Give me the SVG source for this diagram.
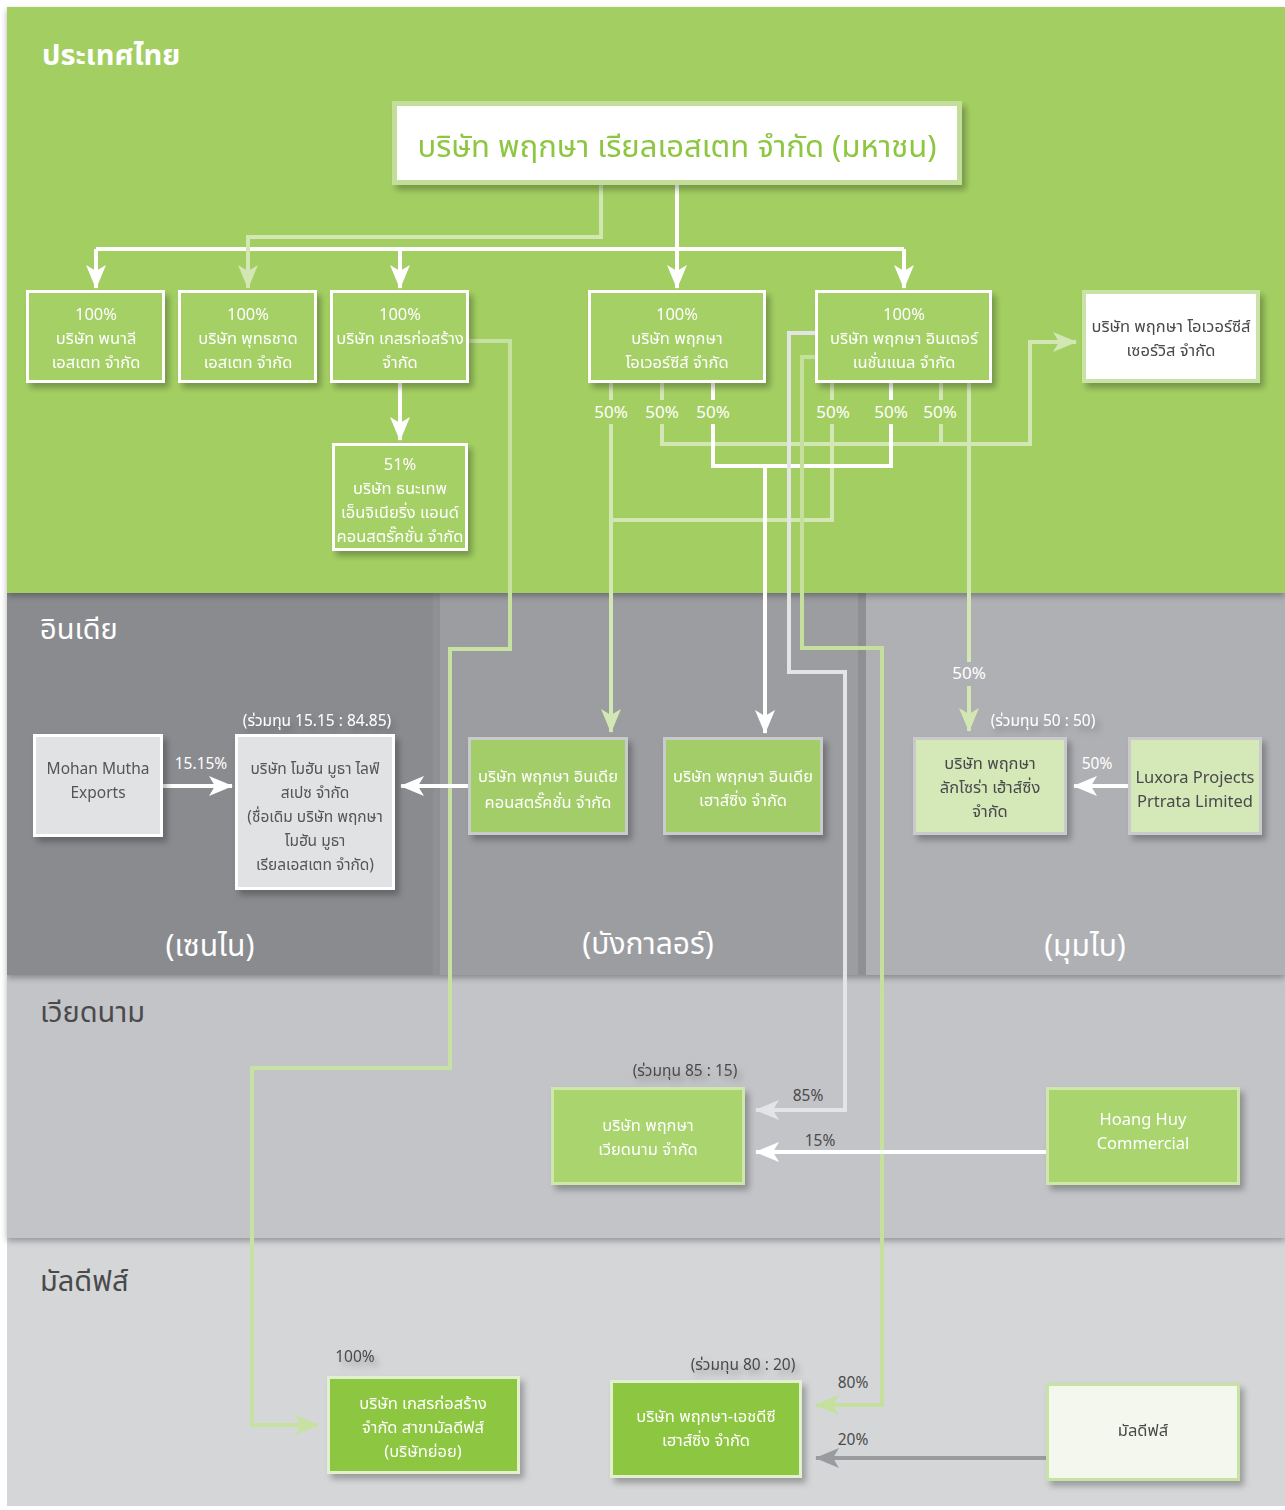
<svg xmlns="http://www.w3.org/2000/svg" width="1285" height="1510" viewBox="0 0 1285 1510">
<defs>
<style>
.t{font-family:"Noto Sans Thai","Leelawadee UI","Tahoma","Noto Sans","DejaVu Sans",sans-serif;text-anchor:middle}
.w{fill:#ffffff}
.d{fill:#4a4a4c}
.g{fill:#555558}
.s16{font-size:16.5px}
.s15{font-size:15.5px}
.p50{font-size:17px}
.big{font-size:30px}
.reg{font-size:29px;text-anchor:start}
.ln{fill:none;stroke-width:4;stroke-linejoin:miter}
.cw{stroke:#ffffff}
.clg{stroke:#d2e7b4}
.ck{stroke:#c7e1a1}
.cgr{stroke:#e3e4e6}
.cg2{stroke:#c4e09c}
.cdk{stroke:#9a9b9f}
.boxg{fill:#a4d066;stroke:#ffffff;stroke-width:3}
.boxi{fill:#a3cd67;stroke:#c9cacc;stroke-width:3}
.boxl{fill:#d5e8b8;stroke:#c9cacc;stroke-width:3}
.boxe{fill:#e1e2e4;stroke:#ffffff;stroke-width:3}
.boxv{fill:#a9d46e;stroke:#cfe6ad;stroke-width:3}
.boxm{fill:#8dc63f;stroke:#e3f0cf;stroke-width:3}
</style>
<filter id="sh" x="-20%" y="-20%" width="150%" height="150%">
<feDropShadow dx="4" dy="5" stdDeviation="3" flood-color="#000" flood-opacity="0.28"/>
</filter>
<filter id="psh" x="-5%" y="-5%" width="110%" height="120%">
<feDropShadow dx="0" dy="3" stdDeviation="3" flood-color="#000" flood-opacity="0.3"/>
</filter>
<marker id="aw" viewBox="0 0 24 20" refX="23" refY="10" markerWidth="24" markerHeight="20" markerUnits="userSpaceOnUse" orient="auto"><path d="M0,0 L24,10 L0,20 L6,10 z" fill="#ffffff"/></marker>
<marker id="alg" viewBox="0 0 24 20" refX="23" refY="10" markerWidth="24" markerHeight="20" markerUnits="userSpaceOnUse" orient="auto"><path d="M0,0 L24,10 L0,20 L6,10 z" fill="#d2e7b4"/></marker>
<marker id="ak" viewBox="0 0 24 20" refX="23" refY="10" markerWidth="24" markerHeight="20" markerUnits="userSpaceOnUse" orient="auto"><path d="M0,0 L24,10 L0,20 L6,10 z" fill="#c7e1a1"/></marker>
<marker id="agr" viewBox="0 0 24 20" refX="23" refY="10" markerWidth="24" markerHeight="20" markerUnits="userSpaceOnUse" orient="auto"><path d="M0,0 L24,10 L0,20 L6,10 z" fill="#e3e4e6"/></marker>
<marker id="ag2" viewBox="0 0 24 20" refX="23" refY="10" markerWidth="24" markerHeight="20" markerUnits="userSpaceOnUse" orient="auto"><path d="M0,0 L24,10 L0,20 L6,10 z" fill="#c4e09c"/></marker>
<marker id="adk" viewBox="0 0 24 20" refX="23" refY="10" markerWidth="24" markerHeight="20" markerUnits="userSpaceOnUse" orient="auto"><path d="M0,0 L24,10 L0,20 L6,10 z" fill="#9a9b9f"/></marker>
</defs>

<rect x="0" y="0" width="1285" height="1510" fill="#ffffff"/>

<g id="regions">
<rect x="7" y="1238" width="1278" height="268" fill="#d5d6d8"/>
<rect x="7" y="975" width="1278" height="263" fill="#c3c4c7" filter="url(#psh)"/>
<rect x="7" y="593" width="1278" height="382" fill="#8f9094" filter="url(#psh)"/>
<rect x="7" y="593" width="426" height="382" fill="#8a8b8f"/>
<rect x="440" y="593" width="418" height="382" fill="#9c9da1"/>
<rect x="866" y="593" width="419" height="382" fill="#afb0b4"/>
<rect x="7" y="7" width="1278" height="586" fill="#a3cf62" filter="url(#psh)"/>
<text class="t reg w" x="42" y="65" font-weight="bold">ประเทศไทย</text>
<text class="t reg w" x="40" y="639">อินเดีย</text>
<text class="t big w" x="210" y="956">(เซนไน)</text>
<text class="t big w" x="648" y="954">(บังกาลอร์)</text>
<text class="t big w" x="1085" y="956">(มุมไบ)</text>
<text class="t reg d" x="40" y="1022">เวียดนาม</text>
<text class="t reg d" x="40" y="1291">มัลดีฟส์</text>
</g>

<g id="connectors">
<path class="ln cw" d="M677,185 V249 M96,249 H904"/>
<path class="ln cw" d="M96,249 V288" marker-end="url(#aw)"/>
<path class="ln cw" d="M400,249 V288" marker-end="url(#aw)"/>
<path class="ln cw" d="M677,249 V288" marker-end="url(#aw)"/>
<path class="ln cw" d="M904,249 V288" marker-end="url(#aw)"/>
<path class="ln clg" d="M601,185 V237 H248 V288" marker-end="url(#alg)"/>
<path class="ln cw" d="M400,383 V440" marker-end="url(#aw)"/>
<path class="ln ck" d="M469,341 H510 V649 H450 V1068 H252 V1425 H318" marker-end="url(#ak)"/>
<path class="ln clg" d="M611,383 V400 M832,383 V400 M832,424 V520 H611"/>
<path class="ln clg" d="M611,424 V732" marker-end="url(#alg)"/>
<path class="ln clg" d="M662,383 V400 M941,383 V400 M941,424 V444"/>
<path class="ln clg" d="M662,424 V444 H1030 V342 H1076" marker-end="url(#alg)"/>
<path class="ln cw" d="M713,383 V400 M891,383 V400 M713,424 V466 H891 V424"/>
<path class="ln cw" d="M765,466 V733" marker-end="url(#aw)"/>
<path class="ln cgr" d="M815,333 H789 V672 H845 V1110 H756" marker-end="url(#agr)"/>
<path class="ln cg2" d="M815,357 H802 V648 H882 V1405 H816" marker-end="url(#ag2)"/>
<path class="ln clg" d="M969,383 V662"/>
<path class="ln clg" d="M969,686 V731" marker-end="url(#alg)"/>
<path class="ln cw" d="M163,786 H232" marker-end="url(#aw)"/>
<path class="ln cw" d="M468,786 H401" marker-end="url(#aw)"/>
<path class="ln cw" d="M1128,786 H1074" marker-end="url(#aw)"/>
<path class="ln cw" d="M1046,1152 H756" marker-end="url(#aw)"/>
<path class="ln cdk" d="M1046,1458 H816" marker-end="url(#adk)"/>
<g class="t">
<text class="p50 w" x="611" y="418">50%</text>
<text class="p50 w" x="662" y="418">50%</text>
<text class="p50 w" x="713" y="418">50%</text>
<text class="p50 w" x="833" y="418">50%</text>
<text class="p50 w" x="891" y="418">50%</text>
<text class="p50 w" x="940" y="418">50%</text>
<text class="p50 w" x="969" y="679">50%</text>
<text class="s15 w" x="201" y="769">15.15%</text>
<text class="s15 w" x="1097" y="769">50%</text>
<text class="s15 d" x="808" y="1101">85%</text>
<text class="s15 d" x="820" y="1146">15%</text>
<text class="s15 d" x="853" y="1388">80%</text>
<text class="s15 d" x="853" y="1445">20%</text>
</g>
</g>

<g id="n-main" filter="url(#sh)">
<rect x="394.5" y="103.5" width="565" height="79" fill="#ffffff" stroke="#c3de9a" stroke-width="5"/>
<text class="t" x="677" y="157" font-size="31" fill="#8dc63f">บริษัท พฤกษา เรียลเอสเตท จำกัด (มหาชน)</text>
</g>

<g id="n-panalee" filter="url(#sh)">
<rect class="boxg" x="27.5" y="291.5" width="136" height="90"/>
<text class="t s16 w" x="96" y="320">100%</text>
<text class="t s16 w" x="96" y="344">บริษัท พนาลี</text>
<text class="t s16 w" x="96" y="368">เอสเตท จำกัด</text>
</g>

<g id="n-putthachart" filter="url(#sh)">
<rect class="boxg" x="179.5" y="291.5" width="136" height="90"/>
<text class="t s16 w" x="248" y="320">100%</text>
<text class="t s16 w" x="248" y="344">บริษัท พุทธชาด</text>
<text class="t s16 w" x="248" y="368">เอสเตท จำกัด</text>
</g>

<g id="n-kesorn" filter="url(#sh)">
<rect class="boxg" x="331.5" y="291.5" width="136" height="90"/>
<text class="t s16 w" x="400" y="320">100%</text>
<text class="t s16 w" x="400" y="344">บริษัท เกสรก่อสร้าง</text>
<text class="t s16 w" x="400" y="368">จำกัด</text>
</g>

<g id="n-overseas" filter="url(#sh)">
<rect class="boxg" x="589.5" y="291.5" width="175" height="90"/>
<text class="t s16 w" x="677" y="320">100%</text>
<text class="t s16 w" x="677" y="344">บริษัท พฤกษา</text>
<text class="t s16 w" x="677" y="368">โอเวอร์ซีส์ จำกัด</text>
</g>

<g id="n-international" filter="url(#sh)">
<rect class="boxg" x="816.5" y="291.5" width="174" height="90"/>
<text class="t s16 w" x="904" y="320">100%</text>
<text class="t s16 w" x="904" y="344">บริษัท พฤกษา อินเตอร์</text>
<text class="t s16 w" x="904" y="368">เนชั่นแนล จำกัด</text>
</g>

<g id="n-services" filter="url(#sh)">
<rect x="1084" y="292" width="174" height="89" fill="#ffffff" stroke="#c9e2a6" stroke-width="4"/>
<text class="t s16 d" x="1171" y="332">บริษัท พฤกษา โอเวอร์ซีส์</text>
<text class="t s16 d" x="1171" y="356">เซอร์วิส จำกัด</text>
</g>

<g id="n-thanathep" filter="url(#sh)">
<rect class="boxg" x="333.5" y="444.5" width="133" height="105"/>
<text class="t s16 w" x="400" y="470">51%</text>
<text class="t s16 w" x="400" y="494">บริษัท ธนะเทพ</text>
<text class="t s16 w" x="400" y="518">เอ็นจิเนียริ่ง แอนด์</text>
<text class="t s16 w" x="400" y="542">คอนสตรั๊คชั่น จำกัด</text>
</g>

<g id="n-mohan" filter="url(#sh)">
<rect class="boxe" x="34.5" y="735.5" width="127" height="100"/>
<text class="t s15 g" x="98" y="774">Mohan Mutha</text>
<text class="t s15 g" x="98" y="798">Exports</text>
</g>

<g id="n-mml" filter="url(#sh)">
<text class="t s15 w" x="317" y="726">(ร่วมทุน 15.15 : 84.85)</text>
<rect class="boxe" x="236.5" y="735.5" width="157" height="153"/>
<text class="t s15 g" x="315" y="774">บริษัท โมฮัน มูธา ไลฟ์</text>
<text class="t s15 g" x="315" y="798">สเปซ จำกัด</text>
<text class="t s15 g" x="315" y="822">(ชื่อเดิม บริษัท พฤกษา</text>
<text class="t s15 g" x="315" y="846">โมฮัน มูธา</text>
<text class="t s15 g" x="315" y="870">เรียลเอสเตท จำกัด)</text>
</g>

<g id="n-india-construction" filter="url(#sh)">
<rect class="boxi" x="469.5" y="738.5" width="157" height="95"/>
<text class="t s16 w" x="548" y="782">บริษัท พฤกษา อินเดีย</text>
<text class="t s16 w" x="548" y="808">คอนสตรั๊คชั่น จำกัด</text>
</g>

<g id="n-india-housing" filter="url(#sh)">
<rect class="boxi" x="664.5" y="738.5" width="157" height="95"/>
<text class="t s16 w" x="743" y="782">บริษัท พฤกษา อินเดีย</text>
<text class="t s16 w" x="743" y="806">เฮาส์ซิ่ง จำกัด</text>
</g>

<g id="n-luxora-housing" filter="url(#sh)">
<text class="t s15 w" x="1043" y="726">(ร่วมทุน 50 : 50)</text>
<rect class="boxl" x="914.5" y="738.5" width="151" height="95"/>
<text class="t s16 d" x="990" y="769">บริษัท พฤกษา</text>
<text class="t s16 d" x="990" y="793">ลักโซร่า เฮ้าส์ซิ่ง</text>
<text class="t s16 d" x="990" y="817">จำกัด</text>
</g>

<g id="n-luxora-projects" filter="url(#sh)">
<rect class="boxl" x="1129.5" y="738.5" width="131" height="95"/>
<text class="t s16 d" x="1195" y="783">Luxora Projects</text>
<text class="t s16 d" x="1195" y="807">Prtrata Limited</text>
</g>

<g id="n-vietnam" filter="url(#sh)">
<text class="t s15 d" x="685" y="1076">(ร่วมทุน 85 : 15)</text>
<rect class="boxv" x="552.5" y="1088.5" width="191" height="95"/>
<text class="t s16 w" x="648" y="1131">บริษัท พฤกษา</text>
<text class="t s16 w" x="648" y="1155">เวียดนาม จำกัด</text>
</g>

<g id="n-hoanghuy" filter="url(#sh)">
<rect class="boxv" x="1047.5" y="1088.5" width="191" height="95"/>
<text class="t s16 w" x="1143" y="1125">Hoang Huy</text>
<text class="t s16 w" x="1143" y="1149">Commercial</text>
</g>

<g id="n-kesorn-maldives" filter="url(#sh)">
<text class="t s15 d" x="355" y="1362">100%</text>
<rect class="boxm" x="328.5" y="1377.5" width="190" height="95"/>
<text class="t s16 w" x="423" y="1409">บริษัท เกสรก่อสร้าง</text>
<text class="t s16 w" x="423" y="1433">จำกัด สาขามัลดีฟส์</text>
<text class="t s16 w" x="423" y="1457">(บริษัทย่อย)</text>
</g>

<g id="n-pruksa-hdc" filter="url(#sh)">
<text class="t s15 d" x="743" y="1370">(ร่วมทุน 80 : 20)</text>
<rect class="boxm" x="611.5" y="1381.5" width="189" height="95"/>
<text class="t s16 w" x="706" y="1422">บริษัท พฤกษา-เอชดีซี</text>
<text class="t s16 w" x="706" y="1446">เฮาส์ซิ่ง จำกัด</text>
</g>

<g id="n-maldives" filter="url(#sh)">
<rect x="1047.5" y="1384.5" width="191" height="95" fill="#f3f7ee" stroke="#c8e2a3" stroke-width="3"/>
<text class="t s16 d" x="1143" y="1436">มัลดีฟส์</text>
</g>
</svg>
